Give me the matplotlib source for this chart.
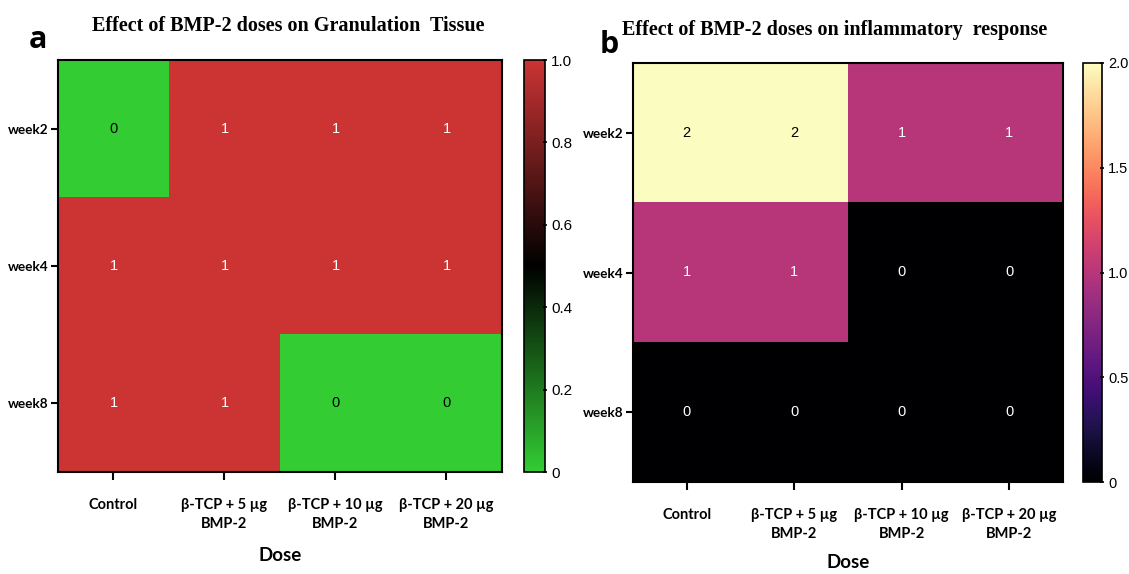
import numpy as np
import matplotlib
matplotlib.use("Agg")
import matplotlib.pyplot as plt
from matplotlib.colors import LinearSegmentedColormap

doses = ["Control", "β-TCP + 5 µg\nBMP-2", "β-TCP + 10 µg\nBMP-2", "β-TCP + 20 µg\nBMP-2"]
weeks = ["week2", "week4", "week8"]
granulation = [[0, 1, 1, 1],
               [1, 1, 1, 1],
               [1, 1, 0, 0]]
inflammation = [[2, 2, 1, 1],
                [1, 1, 0, 0],
                [0, 0, 0, 0]]

fig = plt.figure(figsize=(11.29, 5.74), dpi=100)

cmap_a = LinearSegmentedColormap.from_list("gbr", ["#33cc33", "#000000", "#cc3333"])
cmap_b = plt.get_cmap("magma")

xtickfont = dict(family="Lato", weight="bold", size=10.5)
ytickfont = dict(family="Lato", weight="bold", size=9.8)

def panel(ax_rect, cax_rect, data, cmap, vmax, cticks, cticklabels, title, letter, letter_pos, title_pos, text_color_fn, dose_pad, csize):
    ax = fig.add_axes(ax_rect)
    cax = fig.add_axes(cax_rect)
    arr = np.array(data, dtype=float)
    im = ax.imshow(arr, cmap=cmap, vmin=0, vmax=vmax, aspect="auto", interpolation="nearest")
    for i in range(arr.shape[0]):
        for j in range(arr.shape[1]):
            v = arr[i, j]
            ax.text(j, i, f"{int(v)}", ha="center", va="center", fontsize=10.5,
                    family="Liberation Sans", color=text_color_fn(v))
    ax.set_xticks(range(len(doses)))
    ax.set_xticklabels(doses, **xtickfont, linespacing=1.45)
    ax.set_yticks(range(len(weeks)))
    ax.set_yticklabels(weeks, **ytickfont)
    ax.tick_params(axis="x", length=6, width=1.5, pad=13)
    ax.tick_params(axis="y", length=5, width=1.5, pad=2)
    for s in ax.spines.values():
        s.set_linewidth(1.5)
    ax.set_xlabel("Dose", family="Lato", weight="bold", size=13.5, labelpad=dose_pad)
    cb = fig.colorbar(im, cax=cax, ticks=cticks)
    cb.ax.set_yticklabels(cticklabels, family="Liberation Sans", size=csize)
    cb.ax.tick_params(length=3, width=1.2, direction="inout", pad=3)
    cb.outline.set_linewidth(1.2)
    fig.text(title_pos[0], title_pos[1], title, ha="center", va="center",
             family="Liberation Serif", weight="bold", size=14.5)
    fig.text(letter_pos[0], letter_pos[1], letter, ha="center", va="center",
             family="Open Sans", weight="bold", size=22)
    return ax

panel([58/1129, 1-472/574, 444/1129, 412/574],
      [524/1129, 1-472/574, 21/1129, 412/574],
      granulation, cmap_a, 1.0,
      [0, 0.2, 0.4, 0.6, 0.8, 1.0], ["0", "0.2", "0.4", "0.6", "0.8", "1.0"],
      "Effect of BMP-2 doses on Granulation  Tissue", "a",
      (38/1129, 1-40/574), (288/1129, 1-26/574),
      lambda v: "black" if v < 0.5 else "white", 11, 11)

panel([633/1129, 1-482/574, 430/1129, 419/574],
      [1083/1129, 1-482/574, 19/1129, 419/574],
      inflammation, cmap_b, 2.0,
      [0, 0.5, 1.0, 1.5, 2.0], ["0", "0.5", "1.0", "1.5", "2.0"],
      "Effect of BMP-2 doses on inflammatory  response", "b",
      (609/1129, 1-45/574), (835/1129, 1-30/574),
      lambda v: "black" if v > 1.5 else "white", 9, 10.5)

fig.savefig("out.png", dpi=100)
